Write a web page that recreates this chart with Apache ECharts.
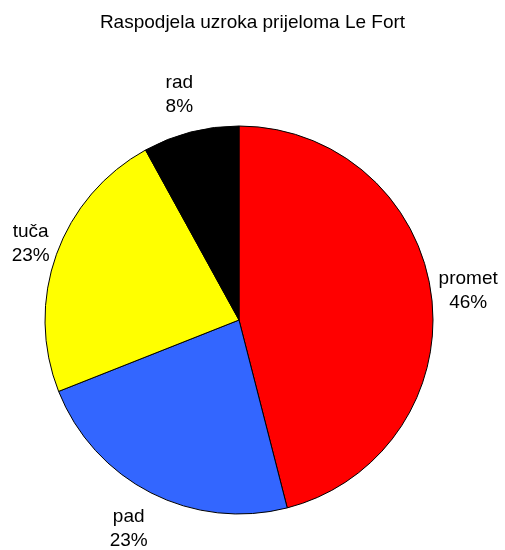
<!DOCTYPE html>
<html>
<head>
<meta charset="utf-8">
<script src="https://cdn.jsdelivr.net/npm/echarts@6/dist/echarts.min.js"></script>
<style>
html, body { margin: 0; padding: 0; background: #fff; }
#chart { width: 505px; height: 550px; }
</style>
</head>
<body>
<div id="chart"></div>
<script>
var titleText = 'Raspodjela uzroka prijeloma Le Fort';
var categories = ['promet', 'pad', 'tuča', 'rad'];
var values = [46, 23, 23, 8];
var colors = ['#ff0000', '#3366ff', '#ffff00', '#000000'];

var dom = document.getElementById('chart');
var myChart = echarts.init(dom);

// small nudges so labels sit where the original put them
var labelOffsets = [[-1, 0], [-5, 2], [10, 2], [-2, -1]];

var pieData = [];
var labelData = [];
for (var i = 0; i < categories.length; i++) {
    pieData.push({ name: categories[i], value: values[i], itemStyle: { color: colors[i] } });
    labelData.push({ name: categories[i], value: values[i], label: { offset: labelOffsets[i] } });
}

var option = {
    backgroundColor: '#fff',
    animation: false,
    title: {
        text: titleText,
        left: 'center',
        top: 8,
        textStyle: { fontFamily: 'Liberation Sans', fontSize: 19, fontWeight: 'normal', color: '#000' }
    },
    series: [{
        // the pie itself
        type: 'pie',
        center: [239, 320],
        radius: 194,
        startAngle: 90,
        clockwise: true,
        silent: true,
        data: pieData,
        itemStyle: { borderColor: '#000', borderWidth: 1 },
        label: { show: false },
        labelLine: { show: false }
    }, {
        // invisible ring, only used to place labels
        type: 'pie',
        center: [239, 320],
        radius: [218, 240],
        startAngle: 90,
        clockwise: true,
        silent: true,
        data: labelData,
        itemStyle: { color: 'rgba(0,0,0,0)', borderWidth: 0 },
        label: {
            show: true,
            position: 'inside',
            formatter: function (p) { return p.name + '\n' + Math.round(p.percent) + '%'; },
            fontFamily: 'Liberation Sans',
            fontSize: 19,
            lineHeight: 24,
            color: '#000'
        },
        labelLine: { show: false }
    }]
};
myChart.setOption(option);
window.onresize = myChart.resize;
</script>
</body>
</html>
